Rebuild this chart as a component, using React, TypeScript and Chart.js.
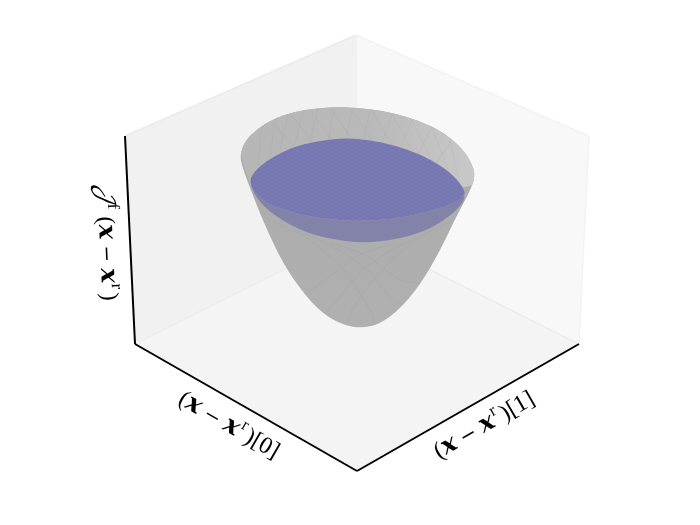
import React, { useEffect, useRef } from "react";
import { Chart, registerables } from "chart.js";

Chart.register(...registerables);

type P = { x: number; y: number };
const pts = (a: number[][]): P[] => a.map(([x, y]) => ({ x, y }));

const paneLeft = [[125, 136], [356, 35], [357, 233], [135, 344]];
const paneRight = [[356, 35], [589, 136], [579, 344], [357, 233]];
const paneFloor = [[135, 344], [357, 233], [579, 344], [357, 471]];
const edgeLeftTop = [[125, 136], [356, 35]];
const edgeRightTop = [[356, 35], [589, 136], [579, 344]];
const edgeFloorBack = [[135, 344], [357, 233], [579, 344]];
const edgeCorner = [[356, 35], [357, 233]];
const axisDepth = [[135, 344], [357, 471]];
const axisWidth = [[357, 471], [579, 344]];
const axisHeight = [[125, 136], [135, 344]];

const bowlOutline = [
  [240, 155], [245, 141], [257, 129], [273, 119], [293, 112], [317, 108], [343, 107],
  [370, 109], [393, 113], [420, 121], [443, 132], [463, 149], [473, 166], [475, 177],
  [470, 191], [457, 215], [440, 251], [420, 285], [400, 309], [380, 324], [362, 328],
  [347, 326], [327, 317], [307, 298], [283, 264], [263, 221], [250, 188], [242, 166],
];
const discTop = [
  [250, 181], [252, 175], [260, 166], [273, 157], [293, 147], [317, 141], [345, 138],
  [370, 140], [393, 145], [420, 154], [443, 167], [457, 179], [465, 191], [464, 196],
  [453, 203], [440, 208], [407, 217], [360, 222], [307, 217], [273, 206], [260, 198], [252, 189],
];
const discBand = [
  [250, 183], [252, 189], [260, 198], [273, 206], [307, 217], [360, 222], [407, 217], [440, 208], [453, 203], [465, 194],
  [464, 201], [453, 214], [427, 231], [390, 241], [353, 243], [307, 234], [273, 215], [256, 198],
];
const meshBody = [
  [[303, 233], [333, 247], [367, 270], [393, 300], [405, 305]],
  [[275, 222], [310, 240], [345, 272], [370, 310], [375, 323]],
  [[330, 243], [365, 255], [400, 280], [420, 283]],
  [[427, 233], [397, 247], [363, 270], [337, 300], [325, 314]],
  [[450, 222], [415, 240], [380, 272], [352, 310], [348, 323]],
  [[395, 243], [360, 255], [325, 280], [305, 295]],
];
const meshRim = [
  [[262, 126], [258, 165]], [[275, 119], [270, 158]], [[288, 114], [280, 150]], [[303, 111], [294, 147]],
  [[318, 109], [310, 142]], [[335, 108], [328, 140]], [[352, 109], [346, 139]], [[370, 110], [364, 140]],
  [[270, 121], [295, 147]], [[290, 113], [312, 142]], [[310, 110], [332, 140]], [[330, 108], [352, 139]],
  [[352, 109], [372, 141]], [[372, 110], [392, 145]], [[392, 114], [412, 151]], [[412, 120], [432, 161]],
  [[432, 127], [449, 173]], [[450, 139], [460, 186]], [[392, 114], [382, 143]], [[412, 120], [400, 148]],
  [[432, 127], [418, 154]], [[452, 140], [436, 164]],
];
const labelDepth = [
  { t: "(", kind: "text" }, { t: "x", kind: "vec" }, { t: "−", kind: "op" },
  { t: "x", kind: "vec" }, { t: "r", kind: "sup" }, { t: ")[0]", kind: "text" },
];
const labelWidth = [
  { t: "(", kind: "text" }, { t: "x", kind: "vec" }, { t: "−", kind: "op" },
  { t: "x", kind: "vec" }, { t: "r", kind: "sup" }, { t: ")[1]", kind: "text" },
];
const labelHeight = [
  { t: "𝒥", kind: "script" }, { t: "f", kind: "supgap" }, { t: "(", kind: "text" }, { t: "x", kind: "vec" },
  { t: "−", kind: "op" }, { t: "x", kind: "vec" }, { t: "r", kind: "sup" }, { t: ")", kind: "text" },
];

const fontFor = (k: string) =>
  k === "vec" ? 'italic bold 25px "DejaVu Serif"'
  : k === "sup" || k === "supgap" ? '17px "Liberation Serif"'
  : k === "script" ? 'italic 24px "DejaVu Math TeX Gyre", "Noto Sans", "Liberation Serif"'
  : k === "op" ? '20px "DejaVu Serif"'
  : '24px "Liberation Serif"';

const gaps: Record<string, number[]> = { op: [6, 6], sup: [1, 3], supgap: [1, 7] };

const drawLabel = (ctx: CanvasRenderingContext2D, runs: any[], x: number, y: number, deg: number) => {
  ctx.save();
  ctx.translate(x, y);
  ctx.rotate((deg * Math.PI) / 180);
  ctx.fillStyle = "#000";
  ctx.textBaseline = "alphabetic";
  let cx = 0;
  for (const r of runs) {
    ctx.font = fontFor(r.kind);
    const [before, after] = gaps[r.kind] || [0, 0];
    cx += before;
    ctx.fillText(r.t, cx, r.kind === "sup" || r.kind === "supgap" ? -10 : 0);
    cx += ctx.measureText(r.t).width + after;
  }
  ctx.restore();
};

const polygonPlugin = {
  id: "polygonFill",
  beforeDatasetDraw(chart: any, args: any) {
    const ds = chart.data.datasets[args.index];
    if (!ds.polygon) return;
    const el = chart.getDatasetMeta(args.index).data;
    const c = chart.ctx;
    const n = el.length;
    c.save();
    c.beginPath();
    if (ds.smooth) {
      // a curve through the midpoints of the outline
      const mid = (a: any, b: any) => ({ x: (a.x + b.x) / 2, y: (a.y + b.y) / 2 });
      const s = mid(el[n - 1], el[0]);
      c.moveTo(s.x, s.y);
      el.forEach((p: any, i: number) => {
        const m = mid(p, el[(i + 1) % n]);
        c.quadraticCurveTo(p.x, p.y, m.x, m.y);
      });
    } else {
      el.forEach((p: any, i: number) => (i ? c.lineTo(p.x, p.y) : c.moveTo(p.x, p.y)));
    }
    c.closePath();
    c.fillStyle = ds.polygon;
    c.fill();
    c.restore();
  },
};

const labelPlugin = {
  id: "axisLabels",
  afterDraw(chart: any) {
    const c = chart.ctx;
    drawLabel(c, labelDepth, 177, 403, 30);
    drawLabel(c, labelWidth, 439, 459, -30);
    drawLabel(c, labelHeight, 97, 184, 87.25);
  },
};

export default function App() {
  const ref = useRef<HTMLCanvasElement>(null);
  useEffect(() => {
    document.body.style.margin = "0";
    const canvas = ref.current!;
    const ctx = canvas.getContext("2d")!;

    const rimFill = ctx.createLinearGradient(240, 0, 474, 0);
    rimFill.addColorStop(0, "#b6b6b6");
    rimFill.addColorStop(0.55, "#b9b9b9");
    rimFill.addColorStop(1, "#c8c8c8");
    const bodyFill = ctx.createLinearGradient(0, 190, 0, 326);
    bodyFill.addColorStop(0, "#acacac");
    bodyFill.addColorStop(1, "#b0b0b0");

    const tile = document.createElement("canvas");
    tile.width = 8;
    tile.height = 4;
    const t = tile.getContext("2d")!;
    t.fillStyle = "#7a7ab4";
    t.fillRect(0, 0, 8, 4);
    t.strokeStyle = "rgba(60,60,130,0.1)";
    t.lineWidth = 0.7;
    t.beginPath();
    t.moveTo(0, 0); t.lineTo(8, 4);
    t.moveTo(0, 4); t.lineTo(8, 0);
    t.stroke();
    const discFill = ctx.createPattern(tile, "repeat");

    const base = { showLine: true, pointRadius: 0, pointHoverRadius: 0, tension: 0, fill: false };
    const poly = (label: string, a: number[][], polygon: any, smooth = false) => ({
      ...base, label, data: pts(a), polygon, smooth, borderWidth: 0,
    });
    const line = (label: string, a: number[][], color: string, w: number, tension = 0) => ({
      ...base, label, data: pts(a), borderColor: color, borderWidth: w, tension,
    });

    const layers: any[] = [
      poly("floor", paneFloor, "#f4f4f4"),
      poly("left wall", paneLeft, "#f1f1f1"),
      poly("right wall", paneRight, "#f8f8f8"),
      line("left wall top edge", edgeLeftTop, "#ebebeb", 1.5),
      line("right wall edges", edgeRightTop, "#f3f3f3", 1.5),
      line("floor back edges", edgeFloorBack, "#ededed", 1.5),
      line("corner edge", edgeCorner, "#f1f1f1", 1.2),
      poly("bowl body", bowlOutline, bodyFill, true),
      poly("bowl rim", bowlOutline.slice(0, 15).concat([[251, 189], [250, 183]]), rimFill, true),
      ...meshRim.map((m, i) => line("rim mesh " + i, m, "rgba(70,70,70,0.07)", 0.7)),
      ...meshBody.map((m, i) => line("body mesh " + i, m, "rgba(70,70,70,0.08)", 0.7, 0.3)),
      poly("disc band", discBand, "#8383aa", true),
      poly("disc top", discTop, discFill, true),
      line("depth axis", axisDepth, "#000", 2),
      line("width axis", axisWidth, "#000", 2),
      line("height axis", axisHeight, "#000", 2),
    ];
    // Chart.js paints the first dataset last, so the stack is listed back to front and flipped.
    const datasets = layers.reverse();

    const chart = new Chart(canvas, {
      type: "scatter",
      data: { datasets },
      options: {
        animation: false,
        responsive: false,
        events: [],
        layout: { padding: 0 },
        plugins: { legend: { display: false }, tooltip: { enabled: false }, title: { display: false } },
        scales: {
          x: { type: "linear", min: 0, max: 700, display: false },
          y: { type: "linear", min: 0, max: 525, reverse: true, display: false },
        },
      },
      plugins: [polygonPlugin, labelPlugin],
    } as any);
    return () => chart.destroy();
  }, []);
  return <canvas ref={ref} width={700} height={525} style={{ display: "block", background: "#fff" }} />;
}
